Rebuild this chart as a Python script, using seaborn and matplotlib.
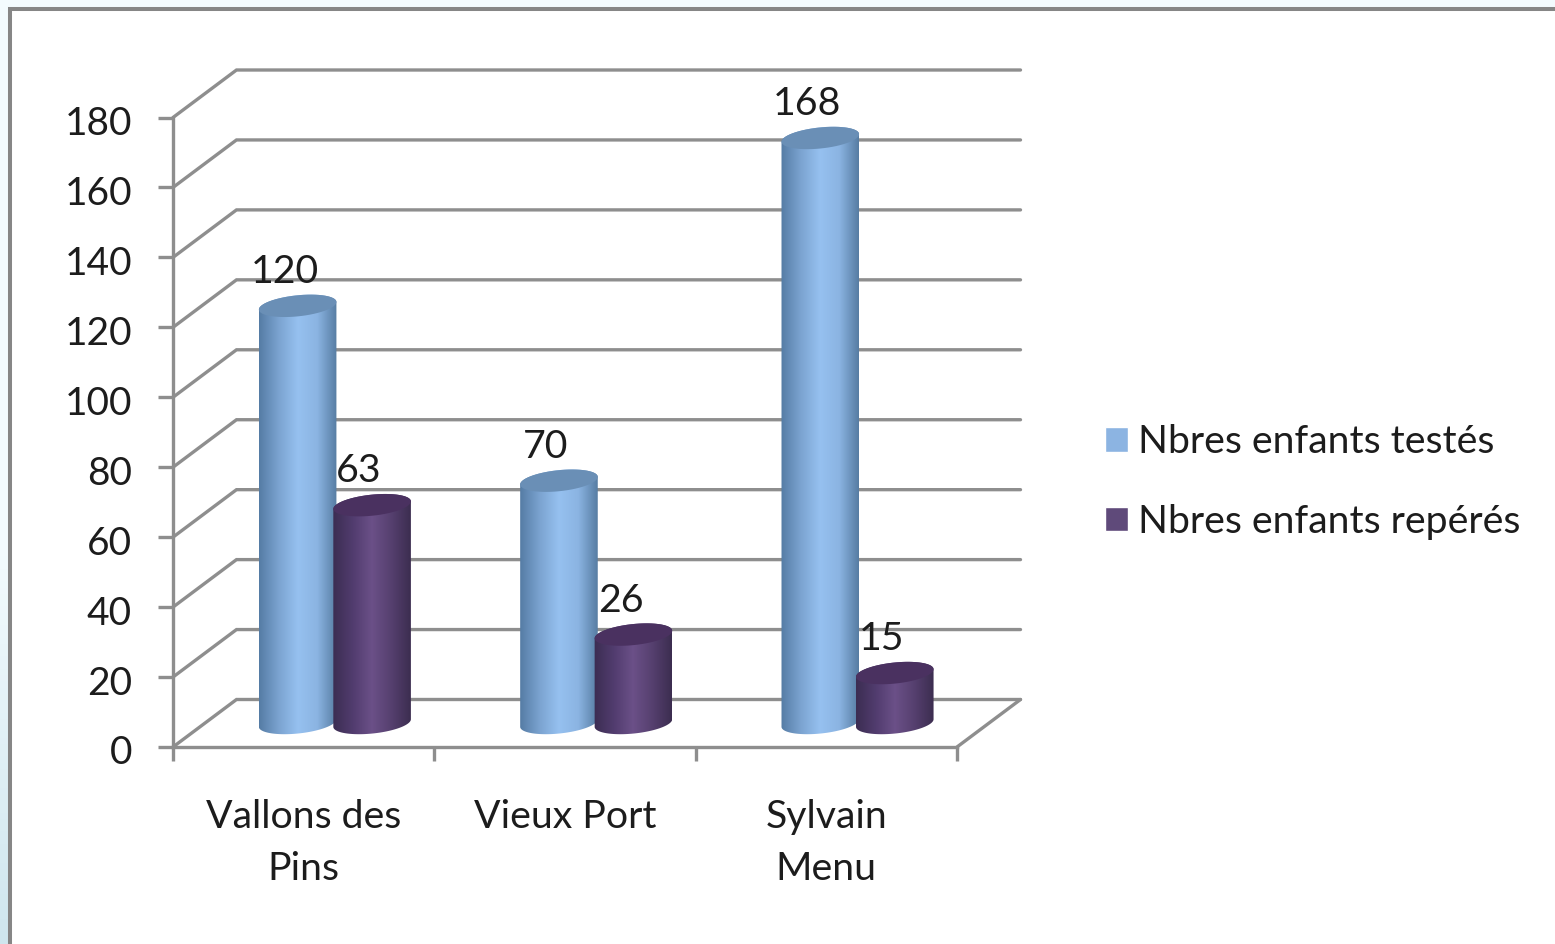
import numpy as np
import pandas as pd
import matplotlib
matplotlib.use("Agg")
import matplotlib.pyplot as plt
from matplotlib.colors import LinearSegmentedColormap
from matplotlib.lines import Line2D
from matplotlib.path import Path
from matplotlib.patches import PathPatch, Polygon
from matplotlib.transforms import ScaledTranslation
import seaborn as sns

categories = ["Vallons des\nPins", "Vieux Port", "Sylvain\nMenu"]
series_names = ["Nbres enfants testés", "Nbres enfants repérés"]
tested = [120, 70, 168]
spotted = [63, 26, 15]
y_ticks = list(range(0, 181, 20))
colors = ["#8cb4e2", "#5f4a7a"]
cap_colors = ["#6a8fb6", "#4a3160"]
shades = [["#557ca5", "#7ba3d0", "#96c1f0", "#8bb4e2", "#577da3"],
          ["#3c2d52", "#513c6e", "#6b5088", "#56406f", "#3c2d50"]]

sns.set_theme(style="white")
plt.rcParams["font.family"] = ["Lato", "DejaVu Sans"]
W, H = 1555, 944
GRAY = "#8e8e8e"
TXT = "#1c1c1c"
LW = 2.4
FS = 28.3

fig = plt.figure(figsize=(W / 100, H / 100), dpi=100, facecolor="#f3fbfe")

# page background behind the chart frame
strip = fig.add_axes([0, 0, 9 / W, 400 / H], zorder=-1)
strip.set_axis_off()
strip.imshow(np.linspace(0, 1, 64)[:, None], aspect="auto",
             cmap=LinearSegmentedColormap.from_list("s", ["#f3fbfe", "#cfe6ee"]),
             vmin=0, vmax=1, origin="upper")
fig.patches.append(plt.Rectangle((10 / W, 0), 1 - 10 / W, 1 - 9 / H, transform=fig.transFigure,
                                 fc="white", ec="none", zorder=-1, figure=fig))
fig.add_artist(Line2D([10 / W, 10 / W, 1], [0, 1 - 9 / H, 1 - 9 / H], color="#868686", lw=2.9,
                      solid_joinstyle="miter"))

ax = fig.add_axes([173 / W, (H - 747) / H, 784 / W, 629.5 / H])
ax.patch.set_alpha(0)

frame = pd.DataFrame({
    "site": categories * 2,
    "serie": [series_names[0]] * 3 + [series_names[1]] * 3,
    "value": tested + spotted,
})
sns.barplot(data=frame, x="site", y="value", hue="serie", hue_order=series_names,
            palette=colors, saturation=1, width=0.57, dodge=True, legend=True, ax=ax, zorder=3)

ax.set_xlim(-0.5, 2.5)
ax.set_ylim(0, 180)
PX = 784 / 3        # pixels per category
PY = 629.5 / 180    # pixels per value unit

# 3D box drawn with the same scales
dx, dy = 63.5 / PX, 47.5 / PY
for v in y_ticks:
    ax.plot([-0.5, -0.5 + dx, 2.5 + dx], [v, v + dy, v + dy], color=GRAY, lw=LW,
            clip_on=False, zorder=1, solid_joinstyle="miter")
ax.plot([2.5, 2.5 + dx], [0, dy], color=GRAY, lw=LW, clip_on=False, zorder=1)

# cylinders, built on the bars that seaborn placed
A, B, TILT = 39.0, 10.5, np.deg2rad(6)
off_x, off_y = 31.2 / PX, 21.5 / PY
base_y = 24.0 / PY


def arc(cx, cy, t0, t1, n=60):
    t = np.linspace(t0, t1, n)
    xs = cx + (A * np.cos(t) * np.cos(TILT) - B * np.sin(t) * np.sin(TILT)) / PX
    ys = cy + (A * np.cos(t) * np.sin(TILT) + B * np.sin(t) * np.cos(TILT)) / PY
    return np.column_stack([xs, ys])


z = 4
grad = np.linspace(0, 1, 128)[None, :]
for s, container in enumerate(ax.containers):
    cmap = LinearSegmentedColormap.from_list(f"c{s}", shades[s])
    for bar in container:
        value = bar.get_height()
        centre = bar.get_x() + bar.get_width() / 2 + off_x
        bar.set_x(centre - 0.8 * bar.get_width() / 2)
        bar.set_width(0.8 * bar.get_width())
        bar.set_y(base_y + 1)
        bar.set_height(off_y + value - base_y - 1)
        bar.set_clip_on(False)
        bar.set_zorder(z)
        low = arc(centre, base_y, np.pi, 2 * np.pi)
        high = arc(centre, off_y + value, 0, np.pi)
        verts = np.vstack([low, high[::1], low[:1]])
        codes = [Path.MOVETO] + [Path.LINETO] * (len(verts) - 2) + [Path.CLOSEPOLY]
        clip = PathPatch(Path(verts, codes), fc="none", ec="none", transform=ax.transData)
        ax.add_patch(clip)
        clip.set_clip_on(False)
        img = ax.imshow(grad, cmap=cmap, vmin=0, vmax=1, aspect="auto", interpolation="bilinear",
                        extent=(centre - A / PX, centre + A / PX, -5, off_y + value + 10),
                        zorder=z + 0.1)
        img.set_clip_path(clip)
        cap = Polygon(arc(centre, off_y + value, 0, 2 * np.pi), closed=True, fc=cap_colors[s],
                      ec="none", clip_on=False, zorder=z + 0.2)
        ax.add_patch(cap)
        ax.annotate(f"{value:.0f}", (centre, off_y + value), xytext=(-13 * 0.72, 34 * 0.72),
                    textcoords="offset points", ha="center", va="center", fontsize=FS,
                    color=TXT, zorder=20, annotation_clip=False)
        z += 1

ax.set_xlim(-0.5, 2.5)
ax.set_ylim(0, 180)
ax.set_xlabel("")
ax.set_ylabel("")
ax.set_yticks(y_ticks)
ax.set_xticks(range(3))
ax.set_xticklabels(categories, linespacing=1.54)
ax.set_xticks([-0.5, 0.5, 1.5, 2.5], minor=True)
ax.tick_params(axis="y", which="major", left=True, length=11, width=LW, color=GRAY, pad=18.5,
               labelsize=28, labelcolor=TXT)
ax.tick_params(axis="x", which="major", bottom=False, length=0, pad=37.5, labelsize=FS,
               labelcolor=TXT)
ax.tick_params(axis="x", which="minor", bottom=True, length=10, width=LW, color=GRAY)
shift_down = ScaledTranslation(0, -3 / 100, fig.dpi_scale_trans)
for label in ax.get_yticklabels():
    label.set_transform(label.get_transform() + shift_down)
for side in ("top", "right"):
    ax.spines[side].set_visible(False)
for side in ("left", "bottom"):
    ax.spines[side].set_color(GRAY)
    ax.spines[side].set_linewidth(LW)
    ax.spines[side].set_zorder(2)

handles, labels = ax.get_legend_handles_labels()
ax.legend(handles, labels, loc="center left", bbox_to_anchor=(1105 / W, (H - 482) / H),
          bbox_transform=fig.transFigure, frameon=False, fontsize=FS, labelcolor=TXT,
          handlelength=0.58, handleheight=0.58, handletextpad=0.27, labelspacing=1.1,
          borderpad=0, borderaxespad=0)

fig.savefig("out.png", dpi=100, facecolor=fig.get_facecolor())
